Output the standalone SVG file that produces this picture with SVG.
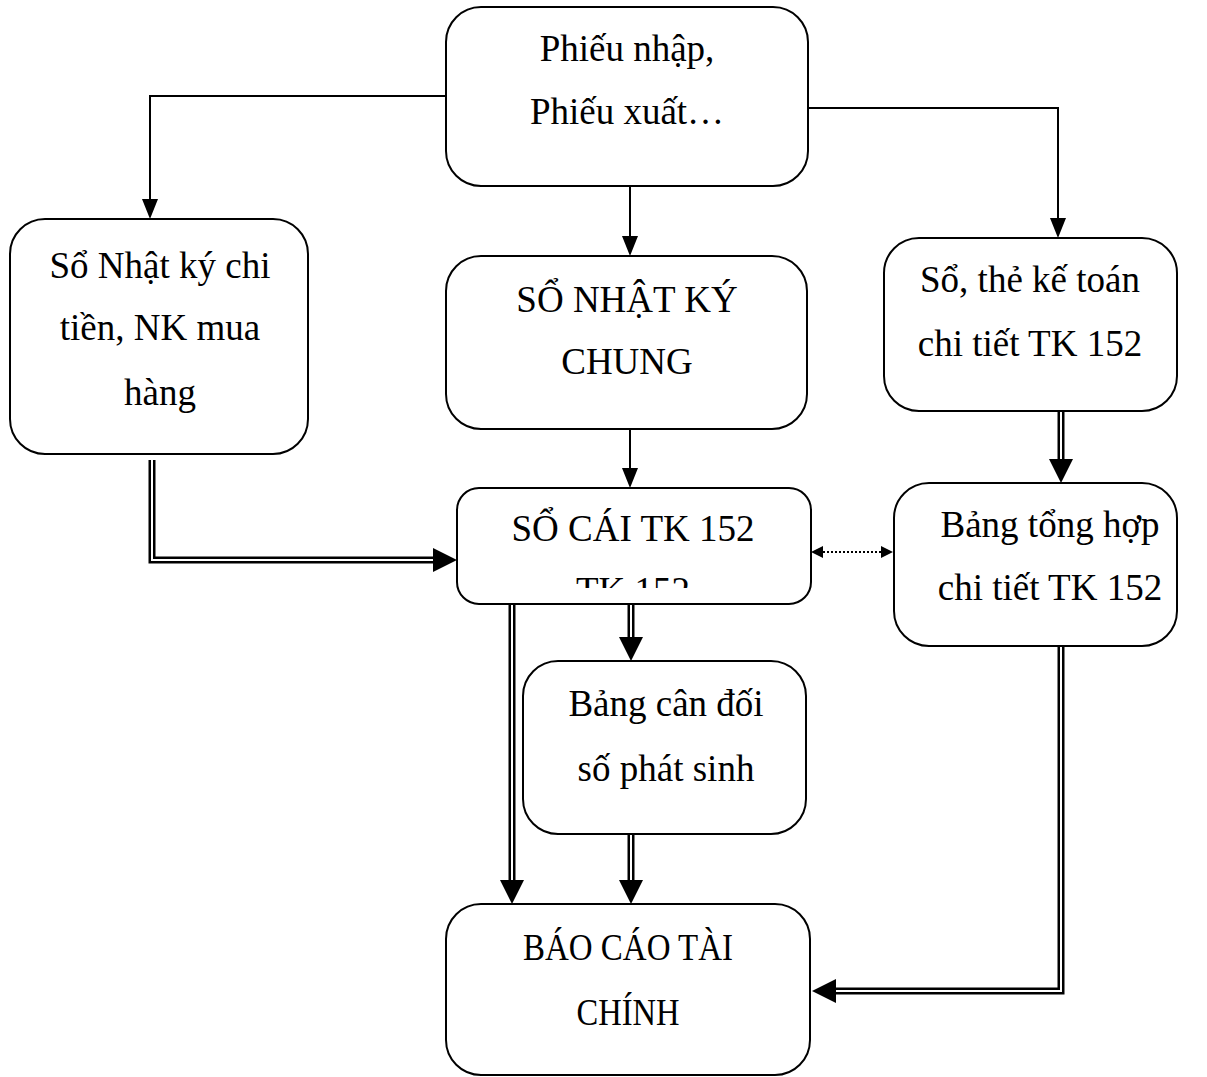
<svg xmlns="http://www.w3.org/2000/svg" width="1207" height="1077" viewBox="0 0 1207 1077">
<style>
.box{fill:#fff;stroke:#000;stroke-width:2}
.t{font-family:"Liberation Serif","Times New Roman",serif;font-size:37px;fill:#000;text-anchor:middle}
.single{fill:none;stroke:#000;stroke-width:2}
.dbl{fill:none;stroke:#000;stroke-width:7}
.gap{fill:none;stroke:#fff;stroke-width:2}
.dot{fill:none;stroke:#000;stroke-width:2;stroke-dasharray:2,2}
</style>
<defs>
<marker id="a1" markerUnits="userSpaceOnUse" markerWidth="22" markerHeight="18" refX="0" refY="8" orient="auto"><path d="M0,0 L20,8 L0,16 z" fill="#000"/></marker>
<marker id="a2" markerUnits="userSpaceOnUse" markerWidth="26" markerHeight="26" refX="0" refY="12" orient="auto"><path d="M0,0 L24,12 L0,24 z" fill="#000"/></marker>
<marker id="a3" markerUnits="userSpaceOnUse" markerWidth="14" markerHeight="14" refX="0" refY="6" orient="auto"><path d="M0,0 L12,6 L0,12 z" fill="#000"/></marker>
<marker id="a3s" markerUnits="userSpaceOnUse" markerWidth="14" markerHeight="14" refX="12" refY="6" orient="auto"><path d="M12,0 L0,6 L12,12 z" fill="#000"/></marker>
<clipPath id="clipSC"><rect x="457" y="488" width="354" height="100"/></clipPath>
</defs>
<g id="connectors">
<path class="single" d="M446,96 H150 V199" marker-end="url(#a1)"/>
<path class="single" d="M808,108 H1058 V218" marker-end="url(#a1)"/>
<path class="single" d="M630,186 V236" marker-end="url(#a1)"/>
<path class="single" d="M630,429 V468" marker-end="url(#a1)"/>
<path class="dbl" d="M152,460 V560 H433" marker-end="url(#a2)"/>
<path class="gap" d="M152,460 V560 H433"/>
<path class="dbl" d="M1061,411 V459" marker-end="url(#a2)"/>
<path class="gap" d="M1061,411 V459"/>
<path class="dbl" d="M512,604 V880" marker-end="url(#a2)"/>
<path class="gap" d="M512,604 V880"/>
<path class="dbl" d="M631,604 V637" marker-end="url(#a2)"/>
<path class="gap" d="M631,604 V637"/>
<path class="dbl" d="M631,834 V880" marker-end="url(#a2)"/>
<path class="gap" d="M631,834 V880"/>
<path class="dbl" d="M1061,642 V991 H836" marker-end="url(#a2)"/>
<path class="gap" d="M1061,642 V991 H836"/>
<path class="dot" d="M823,552 H881" marker-start="url(#a3s)" marker-end="url(#a3)"/>
</g>
<g id="n-phieu">
<rect class="box" x="446" y="7" width="362" height="179" rx="35"/>
<text class="t" x="627" y="61">Phiếu nhập,</text>
<text class="t" x="627" y="124">Phiếu xuất…</text>
</g>
<g id="n-nhatkychi">
<rect class="box" x="10" y="219" width="298" height="235" rx="35"/>
<text class="t" x="160" y="278">Sổ Nhật ký chi</text>
<text class="t" x="160" y="340">tiền, NK mua</text>
<text class="t" x="160" y="405">hàng</text>
</g>
<g id="n-snkc">
<rect class="box" x="446" y="256" width="361" height="173" rx="35"/>
<text class="t" x="627" y="312">SỔ NHẬT KÝ</text>
<text class="t" x="627" y="374">CHUNG</text>
</g>
<g id="n-sothe">
<rect class="box" x="884" y="238" width="293" height="173" rx="35"/>
<text class="t" x="1030" y="292">Sổ, thẻ kế toán</text>
<text class="t" x="1030" y="356">chi tiết TK 152</text>
</g>
<g id="n-socai">
<rect class="box" x="457" y="488" width="354" height="116" rx="22"/>
<text class="t" x="633" y="541">SỔ CÁI TK 152</text>
<text class="t" x="633" y="603" clip-path="url(#clipSC)">TK 152</text>
</g>
<g id="n-tonghop">
<rect class="box" x="894" y="483" width="283" height="163" rx="35"/>
<text class="t" x="1050" y="537">Bảng tổng hợp</text>
<text class="t" x="1050" y="600">chi tiết TK 152</text>
</g>
<g id="n-candoi">
<rect class="box" x="523" y="661" width="283" height="173" rx="35"/>
<text class="t" x="666" y="716">Bảng cân đối</text>
<text class="t" x="666" y="781">số phát sinh</text>
</g>
<g id="n-baocao">
<rect class="box" x="446" y="904" width="364" height="171" rx="35"/>
<text class="t" x="628" y="960" font-size="40" textLength="210" lengthAdjust="spacingAndGlyphs">BÁO CÁO TÀI</text>
<text class="t" x="628" y="1025" font-size="40" textLength="103" lengthAdjust="spacingAndGlyphs">CHÍNH</text>
</g>
</svg>
